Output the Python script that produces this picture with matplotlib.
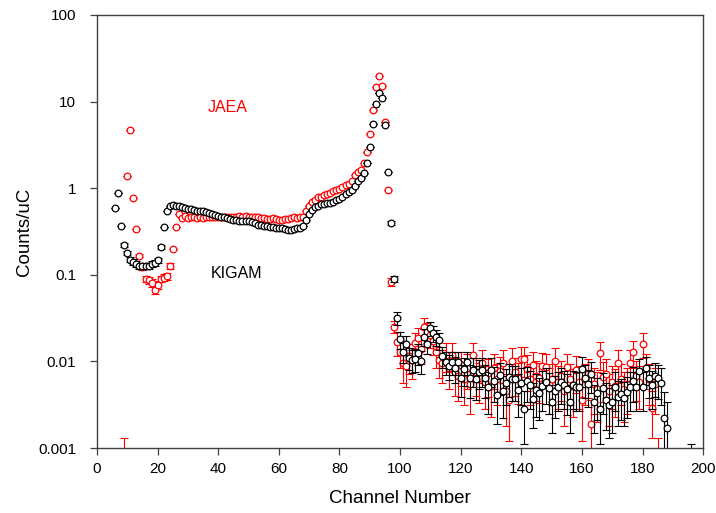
import matplotlib
matplotlib.use('Agg')
import matplotlib.pyplot as plt
import numpy as np

plt.rcParams['font.family'] = ['Liberation Sans', 'DejaVu Sans']

# KIGAM: channels 6..188 plus one point below range at channel 196
kigam_ch = np.append(np.arange(6, 189), 196)
kigam_val = [
    0.59, 0.88, 0.37, 0.22, 0.178, 0.15, 0.141, 0.133, 0.128, 0.126,
    0.126, 0.128, 0.133, 0.137, 0.148, 0.21, 0.36, 0.55, 0.62, 0.64,
    0.63, 0.62, 0.61, 0.59, 0.58, 0.57, 0.56, 0.55, 0.545, 0.54,
    0.53, 0.52, 0.50, 0.49, 0.48, 0.47, 0.46, 0.45, 0.44, 0.43,
    0.43, 0.42, 0.42, 0.42, 0.42, 0.41, 0.40, 0.38, 0.38, 0.37,
    0.37, 0.36, 0.36, 0.35, 0.35, 0.35, 0.34, 0.33, 0.33, 0.34,
    0.35, 0.35, 0.37, 0.43, 0.50, 0.56, 0.60, 0.63, 0.65, 0.66,
    0.67, 0.68, 0.70, 0.73, 0.76, 0.80, 0.85, 0.90, 0.95, 1.05,
    1.2, 1.3, 1.5, 1.93, 3.0, 5.5, 9.5, 12.7, 11.0, 5.3,
    1.54, 0.40, 0.09,
    # tail 99..145
    0.032, 0.018, 0.013, 0.0158, 0.011, 0.0105, 0.0107, 0.0124, 0.0101, 0.0192,
    0.016, 0.024, 0.021, 0.019, 0.0175, 0.0115, 0.0099, 0.0089, 0.0099, 0.0085,
    0.0099, 0.0065, 0.0081, 0.0099, 0.0064, 0.008, 0.0062, 0.0076, 0.008, 0.0065,
    0.005, 0.008, 0.006, 0.0041, 0.0069, 0.0045, 0.0056, 0.0066, 0.0062, 0.0062,
    0.0047, 0.0057, 0.0028, 0.006, 0.0053, 0.0037, 0.0047,
    # tail 146..188
    0.0043, 0.0052, 0.0058, 0.0049, 0.0034, 0.0045, 0.0051, 0.0058, 0.0053, 0.0048,
    0.0034, 0.0053, 0.0051, 0.0051, 0.0081, 0.0065, 0.0055, 0.0071, 0.0034, 0.0043,
    0.0028, 0.0049, 0.0036, 0.0031, 0.0034, 0.0051, 0.0039, 0.0042, 0.0038, 0.0044,
    0.0051, 0.006, 0.0051, 0.0078, 0.0051, 0.0083, 0.0065, 0.0053, 0.0067, 0.0064,
    0.0057, 0.0022, 0.0017,
    # channel 196 (below range)
    0.0005,
]
kigam_err = [
    0, 0, 0, 0.01, 0.01, 0.01, 0.01, 0.01, 0.01, 0.01,
    0.01, 0.01, 0.01, 0.01, 0.01, 0.012, 0, 0, 0, 0,
    0, 0, 0, 0, 0, 0, 0, 0, 0, 0,
    0, 0, 0, 0, 0, 0, 0, 0, 0, 0,
    0, 0, 0, 0, 0, 0, 0, 0, 0, 0,
    0, 0, 0, 0, 0, 0, 0, 0, 0, 0,
    0, 0, 0, 0, 0, 0, 0, 0, 0, 0,
    0, 0, 0, 0, 0, 0, 0, 0, 0, 0,
    0, 0, 0, 0, 0, 0, 0, 0, 0, 0,
    0, 0.02, 0.008,
    0.0054, 0.0040, 0.0034, 0.0038, 0.0031, 0.0031, 0.0031, 0.0033, 0.0030, 0.0042,
    0.0038, 0.0046, 0.0043, 0.0041, 0.0040, 0.0032, 0.0030, 0.0028, 0.0030, 0.0028,
    0.0030, 0.0026, 0.0029, 0.0030, 0.0026, 0.0029, 0.0026, 0.0028, 0.0029, 0.0027,
    0.0025, 0.0029, 0.0026, 0.0022, 0.0028, 0.0023, 0.0025, 0.0027, 0.0027, 0.0027,
    0.0024, 0.0026, 0.0017, 0.0026, 0.0025, 0.0020, 0.0024,
    0.0022, 0.0025, 0.0026, 0.0024, 0.0019, 0.0023, 0.0024, 0.0026, 0.0025, 0.0024,
    0.0019, 0.0025, 0.0024, 0.0024, 0.0030, 0.0027, 0.0025, 0.0028, 0.0019, 0.0022,
    0.0017, 0.0024, 0.0020, 0.0018, 0.0019, 0.0024, 0.0021, 0.0021, 0.0020, 0.0022,
    0.0024, 0.0026, 0.0024, 0.0029, 0.0024, 0.0030, 0.0027, 0.0025, 0.0028, 0.0027,
    0.0026, 0.0022, 0.0017,
    0.0006,
]

# JAEA: channels 9..185 (first and last points lie below the axis range)
jaea_ch = np.arange(9, 186)
jaea_val = [
    0.0004, 1.39, 4.7, 0.77, 0.336, 0.167, 0.123, 0.09, 0.087, 0.081,
    0.066, 0.076, 0.09, 0.093, 0.096, 0.127, 0.197, 0.357, 0.50, 0.45,
    0.48, 0.45, 0.47, 0.46, 0.45, 0.46, 0.45, 0.46, 0.47, 0.46,
    0.47, 0.47, 0.46, 0.47, 0.46, 0.47, 0.47, 0.46, 0.48, 0.47,
    0.48, 0.47, 0.46, 0.47, 0.46, 0.45, 0.45, 0.44, 0.44, 0.45,
    0.44, 0.43, 0.43, 0.44, 0.44, 0.45, 0.46, 0.45, 0.46, 0.47,
    0.55, 0.62, 0.69, 0.73, 0.79, 0.80, 0.83, 0.85, 0.87, 0.92,
    0.95, 0.99, 1.03, 1.08, 1.13, 1.21, 1.41, 1.52, 1.64, 1.96,
    2.6, 4.17, 7.9, 14.8, 19.7, 15.3, 5.8, 0.95, 0.083, 0.025,
    # tail 99..145
    0.0167, 0.013, 0.0095, 0.0088, 0.0115, 0.0103, 0.0163, 0.0188, 0.014, 0.025,
    0.022, 0.02, 0.017, 0.013, 0.0105, 0.0095, 0.012, 0.0085, 0.0119, 0.0075,
    0.0068, 0.009, 0.0063, 0.0085, 0.0055, 0.0119, 0.0075, 0.0065, 0.0095, 0.0058,
    0.0073, 0.0052, 0.0085, 0.0062, 0.0078, 0.0095, 0.0045, 0.0036, 0.0101, 0.0075,
    0.0064, 0.0107, 0.0107, 0.0082, 0.0062, 0.009, 0.0068,
    # tail 146..185
    0.0065, 0.0088, 0.0086, 0.0055, 0.0062, 0.0101, 0.0058, 0.0068, 0.0045, 0.0086,
    0.0062, 0.0052, 0.0079, 0.0058, 0.0036, 0.0062, 0.0072, 0.0019, 0.0055, 0.0048,
    0.0124, 0.0066, 0.0072, 0.0045, 0.0058, 0.0052, 0.0095, 0.0062, 0.0048, 0.0055,
    0.0095, 0.0129, 0.0068, 0.0058, 0.016, 0.0085, 0.0062, 0.0029, 0.0055, 0.0004,
]
jaea_err = [
    0.0009, 0, 0, 0, 0, 0.008, 0.008, 0.008, 0.008, 0.008,
    0.0055, 0.008, 0.008, 0.008, 0.008, 0.009, 0, 0, 0, 0,
    0, 0, 0, 0, 0, 0, 0, 0, 0, 0,
    0, 0, 0, 0, 0, 0, 0, 0, 0, 0,
    0, 0, 0, 0, 0, 0, 0, 0, 0, 0,
    0, 0, 0, 0, 0, 0, 0, 0, 0, 0,
    0, 0, 0, 0, 0, 0, 0, 0, 0, 0,
    0, 0, 0, 0, 0, 0, 0, 0, 0, 0,
    0, 0, 0, 0, 0, 0, 0, 0, 0.008, 0.004,
    0.0052, 0.0046, 0.0039, 0.0038, 0.0043, 0.0041, 0.0051, 0.0055, 0.0047, 0.0063,
    0.0059, 0.0057, 0.0052, 0.0046, 0.0041, 0.0039, 0.0044, 0.0037, 0.0044, 0.0035,
    0.0033, 0.0038, 0.0032, 0.0037, 0.0030, 0.0044, 0.0035, 0.0032, 0.0039, 0.0030,
    0.0034, 0.0029, 0.0037, 0.0031, 0.0035, 0.0039, 0.0027, 0.0024, 0.0040, 0.0035,
    0.0032, 0.0041, 0.0041, 0.0036, 0.0031, 0.0038, 0.0033,
    0.0032, 0.0038, 0.0037, 0.0030, 0.0031, 0.0040, 0.0030, 0.0033, 0.0027, 0.0037,
    0.0031, 0.0029, 0.0036, 0.0030, 0.0024, 0.0031, 0.0034, 0.0017, 0.0030, 0.0028,
    0.0045, 0.0032, 0.0034, 0.0027, 0.0030, 0.0029, 0.0039, 0.0031, 0.0028, 0.0030,
    0.0039, 0.0045, 0.0033, 0.0030, 0.0051, 0.0037, 0.0031, 0.0016, 0.0030, 0.0009,
]

y_ticks = [0.001, 0.01, 0.1, 1, 10, 100]
y_tick_labels = ['0.001', '0.01', '0.1', '1', '10', '100']
x_ticks = [0, 20, 40, 60, 80, 100, 120, 140, 160, 180, 200]

RED = '#ff0000'
BLACK = '#000000'

fig = plt.figure(figsize=(7.16, 5.13), dpi=100)
ax = fig.add_axes([0.1355, 0.1267, 0.8465, 0.8441])

for ch, val, err, col in [(jaea_ch, jaea_val, jaea_err, RED),
                          (kigam_ch, kigam_val, kigam_err, BLACK)]:
    ax.errorbar(ch, val, yerr=err, fmt='none', ecolor=col, elinewidth=0.8,
                capsize=2.8, capthick=0.8)
    ax.plot(ch, val, 'o', ms=4.8, mfc='white', mec=col, mew=0.9, ls='none')

ax.set_yscale('log')
ax.set_xlim(0, 200)
ax.set_ylim(0.001, 100)
ax.set_yticks(y_ticks)
ax.set_yticklabels(y_tick_labels)
ax.yaxis.set_minor_locator(matplotlib.ticker.NullLocator())
ax.set_xticks(x_ticks)

ax.tick_params(axis='both', direction='out', length=5, width=0.9,
               labelsize=11, color='#404040', top=False, right=False)
ax.tick_params(axis='y', pad=10)
ax.tick_params(axis='x', pad=5)
for s in ax.spines.values():
    s.set_color('#404040')
    s.set_linewidth(1.0)

ax.set_xlabel('Channel Number', fontsize=13.5, labelpad=10)
ax.set_ylabel('Counts/uC', fontsize=13.5, labelpad=4)

ax.text(43.2, 8.6, 'JAEA', color=RED, fontsize=11.5, ha='center', va='center')
ax.text(46.2, 0.104, 'KIGAM', color=BLACK, fontsize=11.5, ha='center', va='center')

fig.savefig('out.png', dpi=100)
